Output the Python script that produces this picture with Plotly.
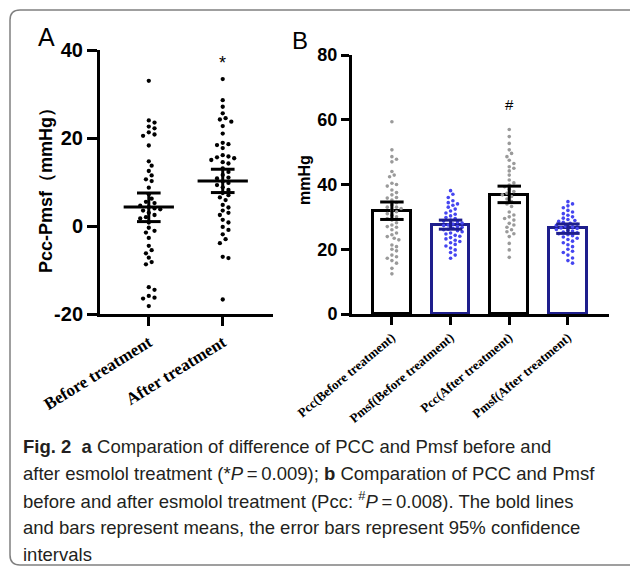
import plotly.graph_objects as go

# ---------------- data ----------------
groups_a = ["Before treatment", "After treatment"]
diff_before = [33, 24, 23.5, 22.6, 22.2, 21.3, 20.8, 20.5, 18.3, 14.7, 13.7, 12.5, 11.5, 10.6, 10.2,
               8.7, 7.2, 6.2, 5.5, 5.2, 4.6, 4.3, 4.0, 3.8, 3.5, 3.0, 2.5, 2.0, 1.7, 0.8, -0.4, -1.1,
               -1.5, -2.7, -4.5, -5.5, -6.2, -7.2, -8.2, -8.7, -13.9, -14.5, -15.9, -16.3, -16.5, -18.2]
diff_after = [33.4, 28.6, 27.1, 25.6, 24.5, 24.2, 23.7, 22.7, 21.0, 18.9, 18.6, 18.4, 17.7, 16.1, 15.8,
              15.4, 15.6, 15.0, 14.5, 14.2, 13.1, 12.3, 11.6, 11.0, 10.8, 10.1, 9.8, 9.3, 8.8, 8.2, 7.5,
              7.0, 6.5, 5.9, 4.8, 4.2, 3.5, 3.0, 2.5, 1.4, 0.8, -0.2, -0.9, -1.9, -3.0, -3.9, -7.0, -7.3, -16.7]
mean_a = [4.3, 10.2]
ci_low_a = [1.0, 7.6]
ci_high_a = [7.5, 12.9]

groups_b = ["Pcc(Before treatment)", "Pmsf(Before treatment)", "Pcc(After treatment)", "Pmsf(After treatment)"]
pcc_before = [59.4, 50.7, 48.6, 47.8, 47.0, 44.0, 42.9, 42.4, 40.4, 40.0, 39.5, 38.3, 37.5, 36.8, 36.0,
              35.8, 35.2, 34.4, 33.7, 33.0, 33.0, 32.6, 32.0, 31.6, 31.0, 30.5, 30.0, 29.5, 29.0, 28.2,
              27.5, 27.0, 26.8, 26.0, 25.0, 24.5, 23.9, 23.4, 22.9, 21.3, 20.8, 20.0, 19.5, 18.2, 17.7,
              17.2, 16.5, 15.7, 14.1, 12.4]
pmsf_before = [38.1, 37.0, 36.0, 35.0, 34.4, 34.0, 33.6, 33.0, 32.4, 31.8, 31.2, 30.8, 30.3, 29.8, 29.5,
               29.0, 28.7, 28.4, 28.1, 27.8, 27.5, 27.3, 27.0, 26.8, 26.5, 26.2, 26.0, 25.7, 25.4, 25.0,
               24.7, 24.3, 24.0, 23.6, 23.2, 22.8, 22.4, 22.0, 21.5, 21.0, 20.4, 19.8, 19.0, 18.2, 17.2]
pcc_after = [57.0, 54.8, 52.7, 50.7, 49.6, 48.6, 47.5, 46.5, 45.5, 45.0, 44.2, 42.9, 41.4, 40.5, 39.8,
             39.3, 38.5, 37.8, 37.3, 36.8, 36.3, 35.5, 34.7, 34.0, 33.2, 31.5, 30.6, 30.0, 29.5, 29.0,
             28.0, 27.5, 26.8, 26.0, 25.4, 24.8, 23.9, 21.8, 19.8, 17.5]
pmsf_after = [34.7, 34.0, 33.4, 32.8, 32.0, 31.5, 31.0, 30.5, 30.0, 29.6, 29.2, 28.9, 28.6, 28.3, 28.0,
              27.7, 27.4, 27.1, 26.9, 26.6, 26.4, 26.1, 25.9, 25.6, 25.3, 25.1, 24.8, 24.5, 24.2, 23.8,
              23.4, 23.0, 22.5, 22.0, 21.4, 20.8, 20.0, 19.4, 19.0, 18.2, 17.3, 16.5, 15.7]
mean_b = [31.8, 27.5, 36.8, 26.5]
ci_low_b = [29.2, 26.2, 34.4, 24.9]
ci_high_b = [34.6, 29.0, 39.5, 27.8]

W, H = 630, 567
def px(x): return x / W
def py(y): return 1 - y / H

BLACK = "#000000"
NAVY = "#1e1e8c"
BLUE = "#4545f0"
GREY = "#9a9a9a"

def swarm(vals, xpx_per_unit, ypx_per_unit, dist):
    placed = []
    offs = [0.0] * len(vals)
    order = sorted(range(len(vals)), key=lambda i: -vals[i])
    step = dist * 0.55
    for i in order:
        y = vals[i] * ypx_per_unit
        k = 0
        while True:
            n = (k + 1) // 2
            cand = n * step * (1 if k % 2 == 1 else -1) if k else 0.0
            if all((cand - a) ** 2 + (y - b) ** 2 >= dist ** 2 for a, b in placed):
                break
            k += 1
        placed.append((cand, y))
        offs[i] = cand / xpx_per_unit
    return offs

fig = go.Figure()

# ---------------- panel A ----------------
A_x0, A_x1, A_y0, A_y1 = 100, 273, 50, 314
a_xrange = [-0.66, 1.68]
a_yrange = [-20, 40]
a_xpx = (A_x1 - A_x0) / (a_xrange[1] - a_xrange[0])
a_ypx = (A_y1 - A_y0) / (a_yrange[1] - a_yrange[0])

for gi, vals in enumerate([diff_before, diff_after]):
    offs = swarm(vals, a_xpx, a_ypx, 5.2)
    fig.add_trace(go.Scatter(x=[gi + o for o in offs], y=vals, mode="markers",
                             marker=dict(size=4.3, color=BLACK), xaxis="x", yaxis="y",
                             showlegend=False, hoverinfo="skip"))
for gi in range(2):
    xs = [gi - 0.34, gi + 0.34, None, gi, gi, None, gi - 0.16, gi + 0.16, None, gi - 0.16, gi + 0.16]
    ys = [mean_a[gi], mean_a[gi], None, ci_low_a[gi], ci_high_a[gi], None,
          ci_low_a[gi], ci_low_a[gi], None, ci_high_a[gi], ci_high_a[gi]]
    fig.add_trace(go.Scatter(x=xs, y=ys, mode="lines", line=dict(color=BLACK, width=3),
                             xaxis="x", yaxis="y", showlegend=False, hoverinfo="skip"))

# ---------------- panel B ----------------
B_x0, B_x1, B_y0, B_y1 = 352, 609, 55, 314
b_xrange = [-0.68, 3.70]
b_yrange = [0, 80]
b_xpx = (B_x1 - B_x0) / (b_xrange[1] - b_xrange[0])
b_ypx = (B_y1 - B_y0) / (b_yrange[1] - b_yrange[0])
outline = [BLACK, NAVY, BLACK, NAVY]
dotcol = [GREY, BLUE, GREY, BLUE]

fig.add_trace(go.Bar(x=list(range(4)), y=mean_b, width=0.64,
                     marker=dict(color="white", line=dict(color=outline, width=3)),
                     xaxis="x2", yaxis="y2", showlegend=False, hoverinfo="skip"))
for gi, vals in enumerate([pcc_before, pmsf_before, pcc_after, pmsf_after]):
    offs = swarm(vals, b_xpx, b_ypx, 4.2)
    fig.add_trace(go.Scatter(x=[gi + o for o in offs], y=vals, mode="markers",
                             marker=dict(size=3.6, color=dotcol[gi]), xaxis="x2", yaxis="y2",
                             showlegend=False, hoverinfo="skip"))
for gi in range(4):
    c = 0.2
    xs = [gi, gi, None, gi - c, gi + c, None, gi - c, gi + c]
    ys = [ci_low_b[gi], ci_high_b[gi], None, ci_low_b[gi], ci_low_b[gi], None, ci_high_b[gi], ci_high_b[gi]]
    fig.add_trace(go.Scatter(x=xs, y=ys, mode="lines", line=dict(color=outline[gi], width=3),
                             xaxis="x2", yaxis="y2", showlegend=False, hoverinfo="skip"))

axis_common = dict(showline=True, linecolor=BLACK, linewidth=3, ticks="outside",
                   tickwidth=3, tickcolor=BLACK, showgrid=False, zeroline=False, automargin=False)

fig.update_layout(
    width=W, height=H, autosize=False, margin=dict(l=0, r=0, t=0, b=0, pad=0),
    paper_bgcolor="white", plot_bgcolor="white", bargap=0,
    xaxis=dict(domain=[px(A_x0), px(A_x1)], range=a_xrange, anchor="y", ticklen=9,
               tickvals=[0, 1], ticktext=["<b>%s</b>" % t for t in groups_a], tickangle=-32,
               tickfont=dict(family="Liberation Serif", size=17, color=BLACK),
               **axis_common),
    yaxis=dict(domain=[py(A_y1), py(A_y0)], range=a_yrange, anchor="x", ticklen=10,
               tickvals=[-20, 0, 20, 40], ticktext=["<b>-20</b>", "<b>0</b>", "<b>20</b>", "<b>40</b>"],
               tickfont=dict(family="Liberation Sans", size=20, color=BLACK),
               **axis_common),
    xaxis2=dict(domain=[px(B_x0), px(B_x1)], range=b_xrange, anchor="y2", ticklen=8,
                tickvals=[0, 1, 2, 3], ticktext=["<b>%s</b>" % t for t in groups_b], tickangle=-40,
                tickfont=dict(family="Liberation Serif", size=13, color=BLACK),
                **axis_common),
    yaxis2=dict(domain=[py(B_y1), py(B_y0)], range=b_yrange, anchor="x2", ticklen=8,
                tickvals=[0, 20, 40, 60, 80], ticktext=["<b>0</b>", "<b>20</b>", "<b>40</b>", "<b>60</b>", "<b>80</b>"],
                tickfont=dict(family="Liberation Sans", size=18, color=BLACK),
                **axis_common),
)

def centered(text, x, y, size, angle=0):
    return dict(text=text, x=px(x), y=py(y), xref="paper", yref="paper", xanchor="center",
                yanchor="middle", textangle=angle, showarrow=False,
                font=dict(family="Liberation Sans", size=size, color=BLACK))

ann = [
    centered("<b>Pcc-Pmsf（mmHg）</b>", 46, 186, 18, -90),
    centered("<b>mmHg</b>", 304, 180, 16, -90),
    centered("A", 46, 37, 25),
    centered("B", 300, 40, 24),
]
ann.append(dict(text="*", x=1, y=max(diff_after) + 3.6, xref="x", yref="y", showarrow=False,
                xanchor="center", yanchor="middle",
                font=dict(family="Liberation Sans", size=18, color=BLACK)))
ann.append(dict(text="#", x=2, y=max(pcc_after) + 7.6, xref="x2", yref="y2", showarrow=False,
                xanchor="center", yanchor="middle",
                font=dict(family="Liberation Sans", size=15, color=BLACK)))

cap_font = dict(family="Liberation Sans", size=18.5, color="#231f20")
cap_lines = [
    "<b>Fig. 2</b>  <b>a</b> Comparation of difference of PCC and Pmsf before and",
    "after esmolol treatment (*<i>P</i>\u2009=\u20090.009); <b>b</b> Comparation of PCC and Pmsf",
    "before and after esmolol treatment (Pcc: <sup>#</sup><i>P</i>\u2009=\u20090.008). The bold lines",
    "and bars represent means, the error bars represent 95% confidence",
    "intervals",
]
cap_y = [446, 473, 500, 527, 554]
for t, yy in zip(cap_lines, cap_y):
    ann.append(dict(text=t, x=px(21), y=py(yy), xref="paper", yref="paper", xanchor="left",
                    yanchor="middle", showarrow=False, font=cap_font, align="left"))
fig.update_layout(annotations=ann)

frame = (f"M {px(650)},{py(565)} L {px(20)},{py(565)} Q {px(10)},{py(565)} {px(10)},{py(555)} "
         f"L {px(10)},{py(20)} Q {px(10)},{py(10)} {px(20)},{py(10)} L {px(650)},{py(10)}")
fig.add_shape(type="path", path=frame, xref="paper", yref="paper",
              line=dict(color="#808080", width=1.5))

fig.write_html("out.html", config={"displayModeBar": False},
               post_script="document.body.style.margin='0px';document.body.style.overflow='hidden';")
